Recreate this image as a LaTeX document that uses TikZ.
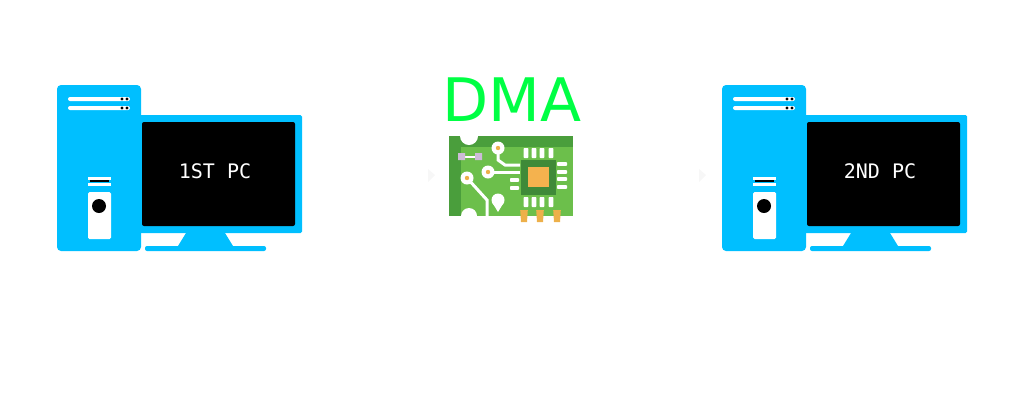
\documentclass[tikz,border=0pt]{standalone}
\usepackage{fontspec}
\setmainfont{DejaVu Sans}
\setmonofont{DejaVu Sans Mono}
\usepackage{tikz}
\definecolor{pcBlue}{HTML}{00BFFF}
\definecolor{dmaGreen}{HTML}{00FF44}
\definecolor{boardGreen}{HTML}{6CBF4B}
\definecolor{boardDark}{HTML}{4A9E3C}
\definecolor{chipDark}{HTML}{3F8A38}
\definecolor{chipCore}{HTML}{F4B24E}
\definecolor{resistorCol}{HTML}{CDBBD8}
\definecolor{padCol}{HTML}{EDB04A}
\tikzset{
  screenlabel/.style={text=white, font=\fontsize{20}{20}\selectfont\ttfamily},
  tracewhite/.style={draw=white, line width=3pt},
  boardpin/.style={fill=white, rounded corners=0.6pt},
}

\begin{document}
\begin{tikzpicture}[x=1pt, y=-1pt]
\useasboundingbox (0,0) rectangle (1024,416);

% both computers
\foreach \ox/\lbl/\nm in {0/1ST PC/first, 665/2ND PC/second}
{
  \begin{scope}[xshift=\ox pt]
    \fill[pcBlue, rounded corners=1.5pt] (139,115) rectangle (302,233);
    \fill[black, rounded corners=2pt] (142,122) rectangle (295,226);
    \fill[pcBlue] (186,233) -- (225,233) -- (233,246) -- (178,246) -- cycle;
    \fill[pcBlue, rounded corners=2pt] (145,246) rectangle (266,251);
    \fill[pcBlue, rounded corners=4pt] (57,85) rectangle (141,251);
    % drive slots
    \foreach \y in {99,108}
    {
      \fill[white, rounded corners=2pt] (68,\y-2) rectangle (130,\y+2);
      \fill[black] (122,\y) circle (1.7) (127,\y) circle (1.7);
    }
    \fill[white] (88,177) rectangle (111,180);
    \fill[white] (88,183) rectangle (111,186);
    \fill[black] (90,180.4) rectangle (109,182.2);
    \fill[white, rounded corners=1.5pt] (88,192) rectangle (111,239);
    \fill[black] (99,206) circle (7);
    \node[screenlabel] (\nm label) at (215,171) {\lbl};
  \end{scope}
}

% faint marks
\fill[black!3] (428,169) -- (435,175) -- (428,182) -- cycle;
\fill[black!3] (699,169) -- (706,175) -- (699,182) -- cycle;

\node[text=dmaGreen, font=\fontsize{60}{60}\selectfont, inner sep=0pt] (dma) at (512,100) {DMA};

% board
\fill[boardGreen] (449,136) rectangle (573,216);
\fill[boardDark] (449,136) rectangle (573,147);
\fill[boardDark] (449,136) rectangle (461,216);
\fill[white] (469,136) circle (9) (469,216) circle (8);

% chip
\fill[chipDark] (521,160) rectangle (556,195);
\fill[chipCore] (528,167) rectangle (549,187);
\foreach \x in {526,534,542,551}
{
  \fill[boardpin] (\x-2.3,148) rectangle (\x+2.3,158);
  \fill[boardpin] (\x-2.3,197) rectangle (\x+2.3,207);
}
\foreach \y in {164,172,179,187}
{
  \fill[boardpin] (557,\y-1.8) rectangle (567,\y+1.8);
}
\foreach \y in {180,188}
{
  \fill[boardpin] (510,\y-1.8) rectangle (519,\y+1.8);
}

% traces
\draw[tracewhite] (498,148) -- (498,160) -- (505,165) -- (520,165);
\draw[tracewhite] (488,172) -- (520,172);
\draw[tracewhite] (467,178) -- (487,200) -- (487,216);
\fill[white] (498,148) circle (6.5) (488,172) circle (6.5) (467,178) circle (6.5);
\fill[padCol] (498,148) circle (2.2) (488,172) circle (2.2) (467,178) circle (2.2);
\fill[white] (498,200) circle (6.5);
\fill[white] (492.5,203) -- (503.5,203) -- (498,212) -- cycle;

% resistor
\draw[white, line width=2pt] (462,157) -- (479,157);
\fill[resistorCol] (458,153) rectangle (465,160) (475,153) rectangle (482,160);

% contact pads
\foreach \x in {524,540,557}
{
  \fill[padCol] (\x-3.8,210) -- (\x+3.8,210) -- (\x+3,222) -- (\x-3,222) -- cycle;
}
\end{tikzpicture}
\end{document}
